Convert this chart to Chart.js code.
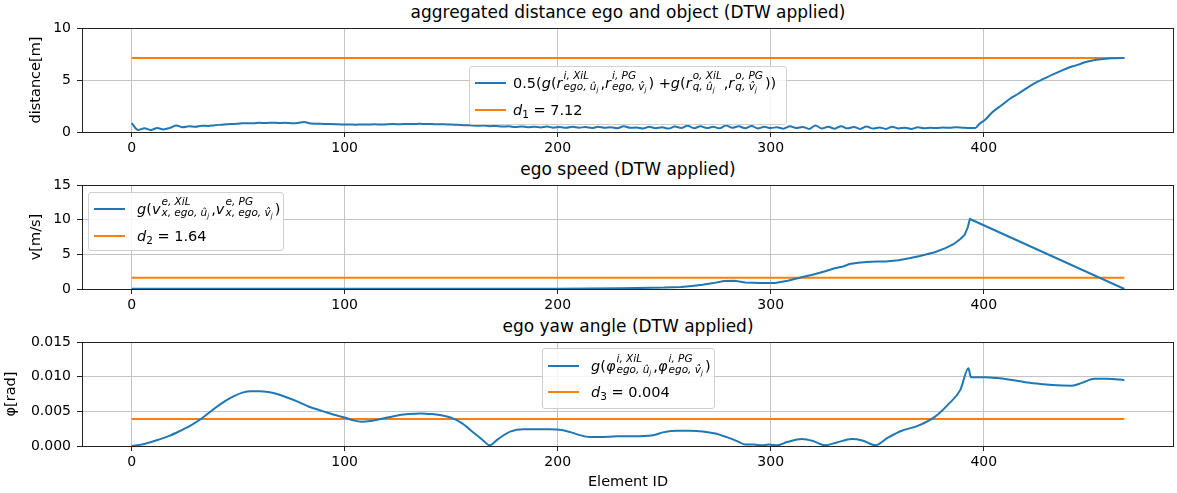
<!DOCTYPE html>
<html>
<head>
<meta charset="utf-8">
<script src="https://cdn.jsdelivr.net/npm/chart.js@4.4.1/dist/chart.umd.min.js"></script>
<style>
  body { margin: 0; background: #fff; font-family: 'DejaVu Sans', sans-serif; }
  #wrap { position: relative; width: 1177px; height: 493px; overflow: hidden; }
  canvas { position: absolute; left: 0; }
  .title { position: absolute; left: 82px; width: 1092px; text-align: center; font-size: 17px; line-height: 20px; color: #000; }
  .leg { position: absolute; background: rgba(255,255,255,0.85); border: 1px solid #d0d0d0; border-radius: 3px; font-size: 14.5px; color: #000; }
  .leg .ln { position: absolute; height: 2px; }
  .leg .row { position: absolute; height: 26px; display: flex; align-items: center; white-space: nowrap; }
  .it { font-style: italic; }
  .ss { display: inline-flex; flex-direction: column; vertical-align: middle; font-size: 10.5px; line-height: 11px; font-style: italic; margin: 0 2px 0 1px; position: relative; top: -1px; }
  .ssub { font-size: 7px; position: relative; top: 2px; }
  .sb { font-size: 10.5px; position: relative; top: 4px; }
</style>
</head>
<body>
<div id="wrap">
  <div class="title" style="top:2px">aggregated distance ego and object (DTW applied)</div>
  <div class="title" style="top:159px">ego speed (DTW applied)</div>
  <div class="title" style="top:316px">ego yaw angle (DTW applied)</div>
  <canvas id="c1" width="1177" height="157" style="top:0"></canvas>
  <canvas id="c2" width="1177" height="157" style="top:157px"></canvas>
  <canvas id="c3" width="1177" height="179" style="top:314px"></canvas>
  <div class="leg" id="leg1" style="left:469px;top:66px;width:316px;height:57px"></div>
  <div class="leg" id="leg2" style="left:88px;top:192px;width:194px;height:57px"></div>
  <div class="leg" id="leg3" style="left:542px;top:348px;width:171px;height:59px"></div>
</div>
<script>
// --- data ---
const xTicks = [0, 100, 200, 300, 400];

// aggregated distance (top plot)
const distX = [0, 3, 6, 9, 12, 15, 18, 21, 24, 27, 30, 33, 36, 39, 42, 45, 48, 51, 54, 57,
  60, 63, 66, 69, 72, 75, 78, 81, 84, 87, 90, 93, 96, 99, 102, 105, 108, 111, 114, 117,
  120, 123, 126, 129, 132, 135, 138, 141, 144, 147, 150, 153, 156, 159, 162, 165, 168, 171, 174, 177,
  180, 183, 186, 189, 192, 195, 198, 201, 204, 207, 210, 213, 216, 219, 222, 225, 228, 231, 234, 237,
  240, 243, 246, 249, 252, 255, 258, 261, 264, 267, 270, 273, 276, 279, 282, 285, 288, 291, 294, 297,
  300, 303, 306, 309, 312, 315, 318, 321, 324, 327, 330, 333, 336, 339, 342, 345, 348, 351, 354, 357,
  360, 363, 366, 369, 372, 375, 378, 381, 384, 387, 390, 393, 396,
  398, 400.5, 404, 408.5, 412, 416.4, 420, 424, 428, 432, 436, 440, 444, 447.5, 451, 455, 460, 466];
const distY = [0.85, 0.2, 0.35, 0.2, 0.38, 0.25, 0.4, 0.62, 0.45, 0.55, 0.5, 0.6, 0.58, 0.66, 0.7, 0.75, 0.78, 0.82, 0.85, 0.84,
  0.88, 0.86, 0.9, 0.87, 0.88, 0.85, 0.87, 0.97, 0.82, 0.8, 0.78, 0.77, 0.75, 0.72, 0.72, 0.7, 0.73, 0.72, 0.74, 0.71,
  0.75, 0.76, 0.74, 0.78, 0.76, 0.79, 0.77, 0.76, 0.74, 0.75, 0.71, 0.7, 0.66, 0.64, 0.6, 0.62, 0.56, 0.58, 0.52, 0.55,
  0.48, 0.53, 0.46, 0.5, 0.44, 0.52, 0.42, 0.48, 0.4, 0.5, 0.42, 0.47, 0.38, 0.5, 0.4, 0.46, 0.36, 0.55, 0.4, 0.44,
  0.34, 0.5, 0.37, 0.45, 0.33, 0.52, 0.38, 0.6, 0.36, 0.55, 0.38, 0.5, 0.35, 0.62, 0.4, 0.55, 0.36, 0.58, 0.33, 0.5,
  0.38, 0.46, 0.32, 0.55, 0.38, 0.48, 0.3, 0.62, 0.34, 0.5, 0.32, 0.56, 0.35, 0.48, 0.3, 0.52, 0.33, 0.44, 0.3, 0.5,
  0.34, 0.42, 0.3, 0.45, 0.35, 0.4, 0.38, 0.44, 0.4, 0.46, 0.42, 0.38, 0.38,
  0.8, 1.15, 1.9, 2.6, 3.15, 3.7, 4.2, 4.7, 5.1, 5.5, 5.85, 6.2, 6.45, 6.7, 6.88, 7.0, 7.08, 7.12];
const d1 = 7.12;

// ego speed (middle plot)
const speedX = [0, 50, 100, 150, 200, 230, 250, 258, 263, 268, 273, 278, 283, 288, 295, 302, 308, 314, 320, 326,
  330, 334, 337, 341, 345, 350, 354, 360, 365, 370, 377, 382, 386, 389, 391, 392.5, 393.5, 466];
const speedY = [0.02, 0.03, 0.03, 0.04, 0.05, 0.1, 0.2, 0.3, 0.45, 0.62, 0.85, 1.15, 1.2, 0.95, 0.85, 0.88, 1.2, 1.65, 2.1, 2.6,
  3.0, 3.25, 3.6, 3.8, 3.9, 3.95, 3.95, 4.15, 4.45, 4.75, 5.3, 5.9, 6.5, 7.2, 7.8, 8.9, 10.1, 0];
const d2 = 1.64;

// ego yaw angle (bottom plot)
const yawX = [0, 6, 12.5, 18, 23.5, 28, 33, 38, 44, 48, 52, 56, 60, 64, 67, 72, 78, 83, 90, 95,
  100, 104, 108, 112, 117, 123, 130, 136, 141, 146, 150, 155, 161, 165, 168, 172, 178, 184, 190, 196,
  202, 206, 210, 215, 220, 228, 236, 244, 250, 256, 262, 268, 274, 280, 285, 288, 292, 296, 299, 303,
  308, 314.6, 320, 325.5, 331, 338, 343, 349, 355, 361.5, 369, 377, 383, 389, 392.8, 394, 400.6, 406, 411.6, 419.4,
  425, 432, 441.3, 446, 452, 458, 466];
const yawY = [0, 0.0003, 0.0009, 0.0015, 0.0023, 0.003, 0.004, 0.0052, 0.0065, 0.0072, 0.0077, 0.0079, 0.0079, 0.0078, 0.0076, 0.0071, 0.0064, 0.0057, 0.005, 0.0045,
  0.0041, 0.0037, 0.0035, 0.0036, 0.0039, 0.0043, 0.0046, 0.0047, 0.0046, 0.0044, 0.0041, 0.0033, 0.0018, 0.0008, 0.0001, 0.001, 0.0021, 0.0024, 0.0024, 0.0024,
  0.0023, 0.002, 0.0016, 0.0013, 0.0013, 0.0014, 0.0014, 0.0015, 0.002, 0.0022, 0.0022, 0.0021, 0.0018, 0.0012, 0.0006, 0.0002, 0.0002, 0.0001, 0.0002, 0.0001,
  0.0006, 0.001, 0.0007, 0.0001, 0.0005, 0.001, 0.0008, 0.0001, 0.0012, 0.0022, 0.0029, 0.0042, 0.0059, 0.0081, 0.0112, 0.0099, 0.0099, 0.0098, 0.0096, 0.0092,
  0.009, 0.0088, 0.0087, 0.0091, 0.0097, 0.0097, 0.0095];
const d3 = 0.0039;
const d3Label = '0.004';

const blue = '#1f77b4';
const orange = '#ff7f0e';

Chart.defaults.font.family = "'DejaVu Sans', sans-serif";
Chart.defaults.font.size = 14;
Chart.defaults.color = '#000';

// axes frame like matplotlib spines
const frame = {
  id: 'frame',
  afterDatasetsDraw(chart) {
    const a = chart.chartArea;
    const ctx = chart.ctx;
    ctx.save();
    ctx.strokeStyle = '#222';
    ctx.lineWidth = 1;
    ctx.strokeRect(Math.round(a.left) + 0.5, Math.round(a.top) + 0.5, Math.round(a.right - a.left) - 1, Math.round(a.bottom - a.top));
    ctx.restore();
  }
};

function pts(xs, ys) {
  return xs.map((x, i) => ({ x: x, y: ys[i] }));
}

function makeChart(id, xs, ys, d, opt) {
  const ctx = document.getElementById(id).getContext('2d');
  return new Chart(ctx, {
    type: 'line',
    data: {
      datasets: [{
        data: pts(xs, ys),
        borderColor: blue,
        borderWidth: 2,
        pointRadius: 0,
        cubicInterpolationMode: opt.smooth ? 'monotone' : 'default',
        tension: 0,
        fill: false
      }, {
        data: [{ x: xs[0], y: d }, { x: xs[xs.length - 1], y: d }],
        borderColor: orange,
        borderWidth: 2,
        pointRadius: 0,
        fill: false
      }]
    },
    options: {
      responsive: false,
      animation: false,
      devicePixelRatio: 1,
      layout: { padding: { top: 28, right: 3, left: 0, bottom: 0 } },
      plugins: { legend: { display: false }, tooltip: { enabled: false } },
      scales: {
        x: {
          type: 'linear',
          min: -23.3,
          max: 489.3,
          afterBuildTicks: s => { s.ticks = xTicks.map(v => ({ value: v })); },
          afterFit: s => { s.height = opt.xh; },
          ticks: { padding: 3, callback: v => String(v) },
          grid: { color: '#c4c4c4', lineWidth: 1, tickLength: 5, tickColor: '#222' },
          border: { display: false },
          title: opt.xTitle ? { display: true, text: opt.xTitle, padding: 2, font: { size: 14.5 } } : { display: false }
        },
        y: {
          min: 0,
          max: opt.ymax,
          ticks: { stepSize: opt.step, padding: 6, callback: opt.fmt },
          afterFit: s => { s.width = 82; },
          grid: { color: '#c4c4c4', lineWidth: 1, tickLength: 5, tickColor: '#222' },
          border: { display: false },
          title: { display: true, text: opt.yTitle, padding: opt.yPad, font: { size: 14.5 } }
        }
      }
    },
    plugins: [frame]
  });
}

makeChart('c1', distX, distY, d1, { ymax: 10, step: 5, yTitle: 'distance[m]', yPad: 28, xh: 25, smooth: true, fmt: v => String(v) });
makeChart('c2', speedX, speedY, d2, { ymax: 15, step: 5, yTitle: 'v[m/s]', yPad: 28, xh: 25, smooth: false, fmt: v => String(v) });
makeChart('c3', yawX, yawY, d3, { ymax: 0.015, step: 0.005, yTitle: 'φ[rad]', yPad: 3, xh: 47, xTitle: 'Element ID', smooth: true, fmt: v => v.toFixed(3) });

// --- legends (mathtext-like labels) ---
function ss(sup, sub) {
  return '<span class="ss"><span>' + sup + '</span><span>' + sub + '</span></span>';
}
const uj = 'û<span class="ssub">j</span>';
const vj = 'v̂<span class="ssub">j</span>';

function legend(id, lineX, textX, rows) {
  const el = document.getElementById(id);
  let html = '';
  rows.forEach(r => {
    html += '<div class="ln" style="left:' + lineX + 'px;width:31px;top:' + (r.cy - 1) + 'px;background:' + r.color + '"></div>';
    html += '<div class="row" style="left:' + textX + 'px;top:' + (r.cy - 13) + 'px">' + r.html + '</div>';
  });
  el.innerHTML = html;
}

legend('leg1', 5, 43, [
  { cy: 16, color: blue, html: '0.5(<span class="it">g</span>(<span class="it">r</span>' + ss('i, XiL', 'ego, ' + uj) + ', <span class="it">r</span>' + ss('i, PG', 'ego, ' + vj) + ') + <span class="it">g</span>(<span class="it">r</span>' + ss('o, XiL', 'q, ' + uj) + ', <span class="it">r</span>' + ss('o, PG', 'q, ' + vj) + '))' },
  { cy: 43, color: orange, html: '<span class="it">d</span><span class="sb">1</span>&nbsp;= ' + d1 }
]);
legend('leg2', 5, 48, [
  { cy: 16, color: blue, html: '<span class="it">g</span>(<span class="it">v</span>' + ss('e, XiL', 'x, ego, ' + uj) + ', <span class="it">v</span>' + ss('e, PG', 'x, ego, ' + vj) + ')' },
  { cy: 43, color: orange, html: '<span class="it">d</span><span class="sb">2</span>&nbsp;= ' + d2 }
]);
legend('leg3', 5, 48, [
  { cy: 17, color: blue, html: '<span class="it">g</span>(<span class="it">φ</span>' + ss('i, XiL', 'ego, ' + uj) + ', <span class="it">φ</span>' + ss('i, PG', 'ego, ' + vj) + ')' },
  { cy: 43, color: orange, html: '<span class="it">d</span><span class="sb">3</span>&nbsp;= ' + d3Label }
]);
</script>
</body>
</html>
